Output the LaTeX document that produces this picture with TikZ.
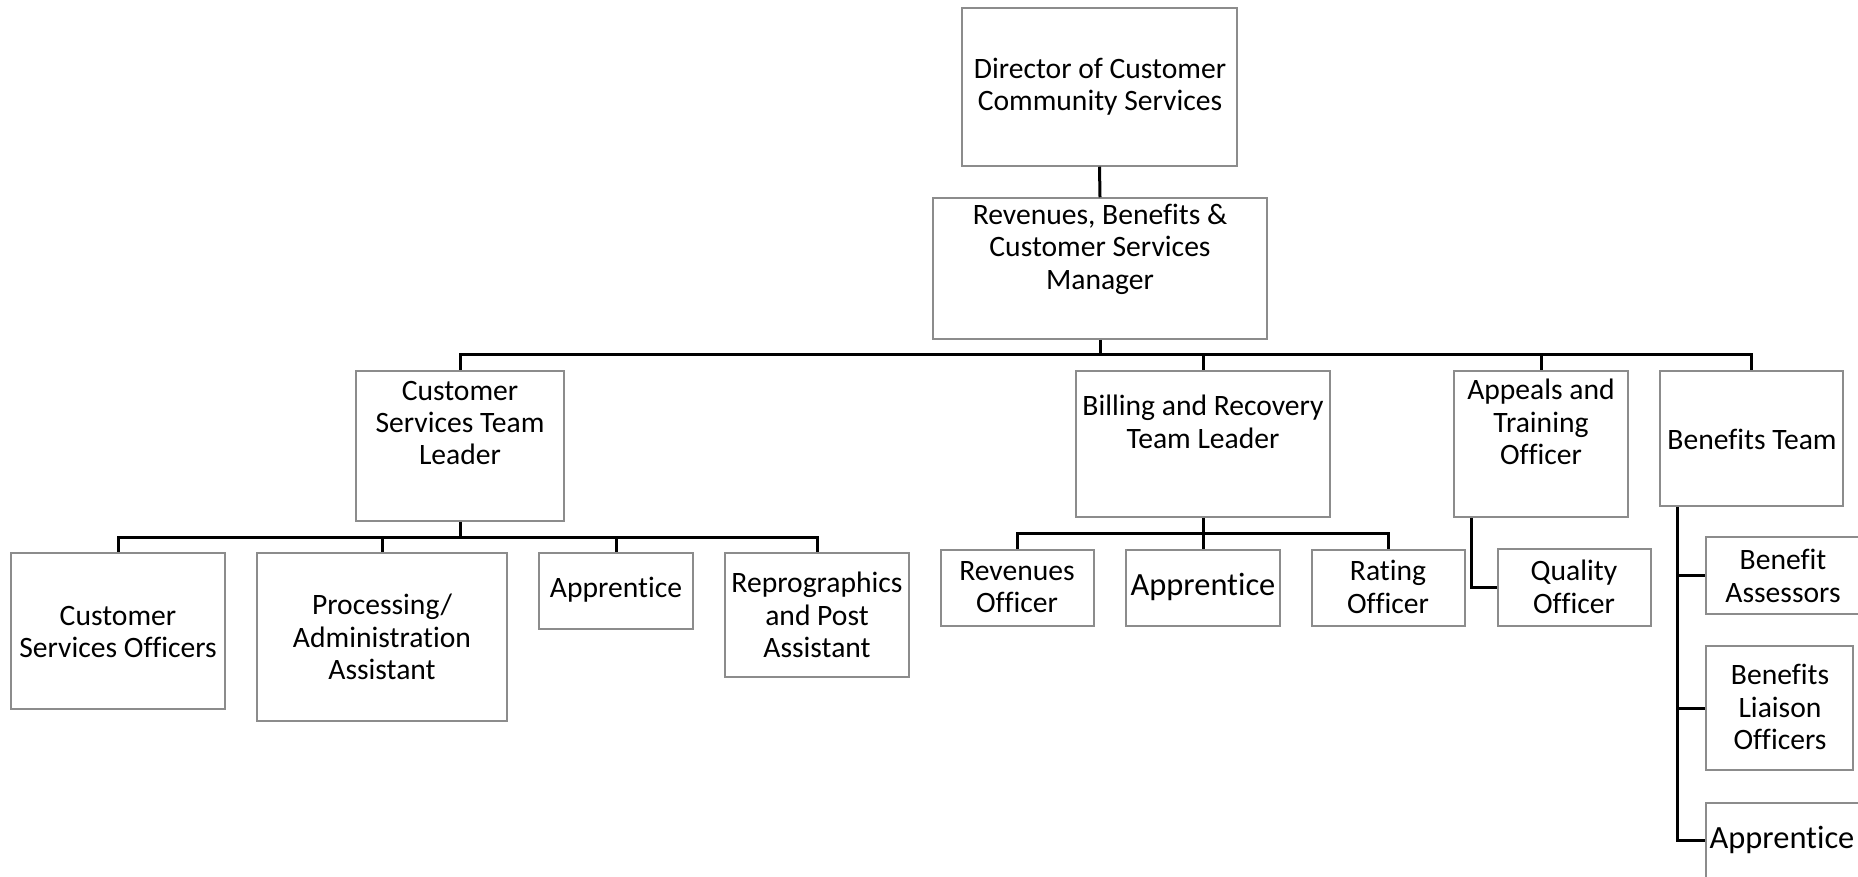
\documentclass[tikz,border=0pt]{standalone}
\usepackage{fontspec}
\setmainfont[Ligatures=NoCommon]{Carlito}
\usetikzlibrary{fit}
\definecolor{boxgray}{HTML}{8C8C8C}
\tikzset{
  box/.style={draw=boxgray, line width=0.75pt, rectangle, inner sep=0pt, fill=white},
  txt/.style={align=center, inner sep=0pt, font=\fontsize{14.8}{16.2}\selectfont},
  bigtxt/.style={align=center, inner sep=0pt, font=\fontsize{16.2}{17}\selectfont},
  conn/.style={draw=black, line width=1.5pt}
}
\begin{document}
\begin{tikzpicture}[x=0.5pt, y=-0.5pt]
\useasboundingbox (0,0) rectangle (1858,877);
\clip (0,0) rectangle (1858,877);
% boxes
\node[box, fit={(962,8) (1237,166)}] (dir) {};
\node[box, fit={(933,198) (1267,339)}] (mgr) {};
\node[box, fit={(356,371) (564,521)}] (cstl) {};
\node[box, fit={(1076,371) (1330,517)}] (bill) {};
\node[box, fit={(1454,371) (1628,517)}] (appeals) {};
\node[box, fit={(1660,371) (1843,506)}] (bteam) {};
\node[box, fit={(11,553) (225,709)}] (cso) {};
\node[box, fit={(257,553) (507,721)}] (proc) {};
\node[box, fit={(539,553) (693,629)}] (appa) {};
\node[box, fit={(725,553) (909,677)}] (repro) {};
\node[box, fit={(941,550) (1094,626)}] (rev) {};
\node[box, fit={(1126,550) (1280,626)}] (appb) {};
\node[box, fit={(1312,550) (1465,626)}] (rating) {};
\node[box, fit={(1498,549) (1651,626)}] (quality) {};
\node[box, fit={(1706,537) (1875,614)}] (bassess) {};
\node[box, fit={(1706,646) (1853,770)}] (bliaison) {};
\node[box, fit={(1706,803) (1875,878)}] (appc) {};
% texts
\node[txt] (dir-t) at (1100,87) {Director of Customer\\Community Services};
\node[txt] (mgr-t) at (1100,249) {Revenues, Benefits \&\\Customer Services\\Manager};
\node[txt] (cstl-t) at (460,423) {Customer\\Services Team\\Leader};
\node[txt] (bill-t) at (1203,422) {Billing and Recovery\\Team Leader};
\node[txt] (appeals-t) at (1541,422) {Appeals and\\Training\\Officer};
\node[txt] (bteam-t) at (1752,439) {Benefits Team};
\node[txt] (cso-t) at (118,632) {Customer\\Services Officers};
\node[txt] (proc-t) at (382,637) {Processing/\\Administration\\Assistant};
\node[txt] (appa-t) at (616,590) {Apprentice};
\node[txt] (repro-t) at (817,615) {Reprographics\\and Post\\Assistant};
\node[txt] (rev-t) at (1017,587) {Revenues\\Officer};
\node[bigtxt] (appb-t) at (1203,587) {Apprentice};
\node[txt] (rating-t) at (1388,587) {Rating\\Officer};
\node[txt] (quality-t) at (1574,587) {Quality\\Officer};
\node[txt] (bassess-t) at (1783,576) {Benefit\\Assessors};
\node[txt] (bliaison-t) at (1780,707) {Benefits\\Liaison\\Officers};
\node[bigtxt] (appc-t) at (1782,840) {Apprentice};
% connectors
\coordinate (busA) at (0,354);
\coordinate (busB) at (0,537);
\coordinate (busC) at (0,533);
\draw[conn] (dir.south) -- (mgr.north);
\draw[conn] (mgr.south) -- (mgr.south |- busA) -| (cstl.north);
\draw[conn] (mgr.south |- busA) -| (bill.north);
\draw[conn] (mgr.south |- busA) -| (appeals.north);
\draw[conn] (mgr.south |- busA) -| (bteam.north);
\draw[conn] (cstl.south) -- (cstl.south |- busB) -| (cso.north);
\draw[conn] (cstl.south |- busB) -| (proc.north);
\draw[conn] (cstl.south |- busB) -| (appa.north);
\draw[conn] (cstl.south |- busB) -| (repro.north);
\draw[conn] (bill.south) -- (appb.north);
\draw[conn] (bill.south |- busC) -| (rev.north);
\draw[conn] (bill.south |- busC) -| (rating.north);
\draw[conn] ([xshift=9pt]appeals.south west) |- (quality.west);
\coordinate (bt) at ([xshift=9pt]bteam.south west);
\draw[conn] (bt) |- (appc.west);
\draw[conn] (bt |- bassess.west) -- (bassess.west);
\draw[conn] (bt |- bliaison.west) -- (bliaison.west);
\end{tikzpicture}
\end{document}
